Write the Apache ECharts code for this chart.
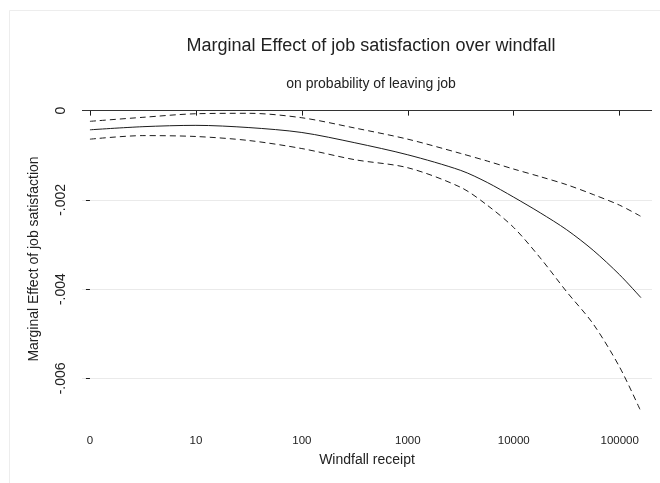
<!DOCTYPE html>
<html>
<head>
<meta charset="utf-8">
<style>
  html, body { margin: 0; padding: 0; background: #ffffff; }
  #chart { width: 660px; height: 483px; }
</style>
<script src="https://cdn.jsdelivr.net/npm/echarts@6/dist/echarts.min.js"></script>
</head>
<body>
<div id="chart"></div>
<script>
// Horizontal position: decades of windfall receipt (0 = none, 1 = 10, ... 5 = 100000)
const windfallPos = [0, 0.5, 1, 1.5, 2, 2.5, 3, 3.5, 3.75, 4, 4.25, 4.5, 4.75, 5, 5.2];

// Marginal effect of job satisfaction and its confidence band
const marginalEffect = [-0.00043, -0.00036, -0.00033, -0.00038, -0.00049, -0.00072, -0.00099, -0.00134, -0.00161, -0.00194, -0.00229, -0.00267, -0.00313, -0.00368, -0.00419];
const upperBound     = [-0.00024, -0.00015, -0.00007, -0.00006, -0.00016, -0.00039, -0.00064, -0.00096, -0.00113, -0.00131, -0.00148, -0.00166, -0.00188, -0.00212, -0.00237];
const lowerBound     = [-0.00064, -0.00056, -0.00058, -0.00067, -0.00085, -0.00110, -0.00128, -0.00172, -0.00212, -0.00262, -0.00330, -0.00406, -0.00478, -0.00575, -0.00674];

// Axis ticks and their labels
const xTickPos = [0, 1, 2, 3, 4, 5];
const xTickLabels = ['0', '10', '100', '1000', '10000', '100000'];
const yTickVals = [0, -0.002, -0.004, -0.006];
const yTickLabels = ['0', '-.002', '-.004', '-.006'];

const pairs = (ys) => windfallPos.map((x, i) => [x, ys[i]]);
const font = 'Liberation Sans, Arial, sans-serif';
const ink = '#1c1c1c';

const chart = echarts.init(document.getElementById('chart'), null, { renderer: 'canvas' });

chart.setOption({
  backgroundColor: '#ffffff',
  animation: false,
  title: [
    {
      text: 'Marginal Effect of job satisfaction over windfall',
      left: 366, top: 32, textAlign: 'center',
      textStyle: { fontFamily: font, fontSize: 18, fontWeight: 'normal', color: '#222' }
    },
    {
      text: 'on probability of leaving job',
      left: 366, top: 72, textAlign: 'center',
      textStyle: { fontFamily: font, fontSize: 14, fontWeight: 'normal', color: '#222' }
    }
  ],
  graphic: [
    { type: 'line', shape: { x1: 9.5, y1: 10.5, x2: 660, y2: 10.5 }, style: { stroke: '#ededed', lineWidth: 1 }, silent: true },
    { type: 'line', shape: { x1: 9.5, y1: 10.5, x2: 9.5, y2: 483 }, style: { stroke: '#ededed', lineWidth: 1 }, silent: true }
  ],
  grid: { left: 82, right: 8, top: 95, bottom: 60 },
  xAxis: {
    type: 'value',
    min: -0.075, max: 5.305,
    name: 'Windfall receipt',
    nameLocation: 'middle',
    nameGap: 30,
    nameTextStyle: { fontFamily: font, fontSize: 14, color: '#222' },
    axisLine: { show: false },
    axisTick: { show: true, customValues: xTickPos, length: 5, inside: false, lineStyle: { color: ink, width: 1 } },
    axisLabel: {
      customValues: xTickPos,
      margin: 12,
      fontFamily: font, fontSize: 11.5, color: '#222',
      formatter: (v) => xTickLabels[xTickPos.indexOf(Math.round(v))] ?? ''
    },
    splitLine: { show: false }
  },
  yAxis: {
    type: 'value',
    min: -0.007, max: 0.00035,
    name: 'Marginal Effect of job satisfaction',
    nameLocation: 'middle',
    nameGap: 41,
    nameRotate: 90,
    nameTextStyle: { fontFamily: font, fontSize: 14, color: '#222' },
    axisLine: { show: false },
    axisTick: { show: true, customValues: yTickVals, length: 4, lineStyle: { color: ink, width: 1 } },
    axisLabel: {
      customValues: yTickVals,
      rotate: 90,
      margin: 14,
      fontFamily: font, fontSize: 14, color: '#222',
      formatter: (v) => {
        const i = yTickVals.findIndex((t) => Math.abs(t - v) < 1e-9);
        return i >= 0 ? yTickLabels[i] : '';
      }
    },
    splitLine: { show: true, customValues: yTickVals, lineStyle: { color: '#eaeaea', width: 1 } }
  },
  series: [
    {
      type: 'line',
      data: pairs(marginalEffect),
      showSymbol: false,
      smooth: 0.3,
      lineStyle: { color: ink, width: 1, type: 'solid' },
      markLine: {
        silent: true,
        symbol: 'none',
        label: { show: false },
        lineStyle: { color: '#333', width: 1.2, type: 'solid' },
        data: [{ yAxis: 0 }]
      },
      z: 3
    },
    {
      type: 'line',
      data: pairs(upperBound),
      showSymbol: false,
      smooth: 0.3,
      lineStyle: { color: ink, width: 1, type: [6, 4] },
      z: 3
    },
    {
      type: 'line',
      data: pairs(lowerBound),
      showSymbol: false,
      smooth: 0.3,
      lineStyle: { color: ink, width: 1, type: [6, 4] },
      z: 3
    }
  ]
});
</script>
</body>
</html>
